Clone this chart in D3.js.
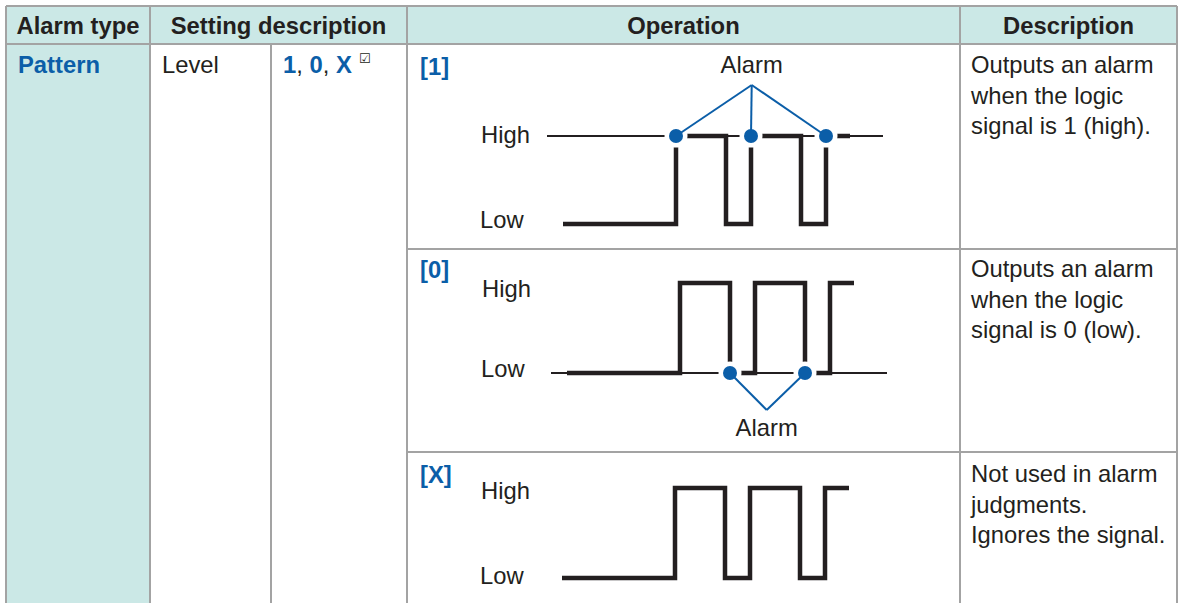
<!DOCTYPE html>
<html><head><meta charset="utf-8">
<script src="https://cdn.jsdelivr.net/npm/d3@7"></script>
<style>
html,body{margin:0;padding:0;background:#fff;}
svg text{font-family:"Liberation Sans",Arial,sans-serif;}
</style></head>
<body><svg id="c" width="1178" height="603"></svg>
<script>
// ---- data ----
const headers = ["Alarm type", "Setting description", "Operation", "Description"];
const alarmType = "Pattern";
const settingName = "Level";
const settingValues = ["1", "0", "X"];
const modes = ["[1]", "[0]", "[X]"];
const levelLabels = ["High", "Low"];
const alarmLabel = "Alarm";
const descriptions = [
  ["Outputs an alarm", "when the logic", "signal is 1 (high)."],
  ["Outputs an alarm", "when the logic", "signal is 0 (low)."],
  ["Not used in alarm", "judgments.", "Ignores the signal."]
];
// signal transitions (time units) and the level held after each
const edgeTimes = [0, 113, 163, 188, 238, 263, 287];
const edgeLevels = [0, 1, 0, 1, 0, 1];
// alarm points: times where the watched level is reached
const alarmTimesHigh = [113, 188, 263];
const alarmTimesLow = [163, 238];
const refSpan = [-16, 320];

// ---- style / layout ----
const BLUE = "#0b5ea8", INK = "#231f20", GRID = "#a3a3a3", HEAD = "#cbe8e6";
const FS = 23.8;
const colX = [6, 150, 271, 407, 960, 1177];
const headTop = 6, headBot = 44, rowY = [44, 249, 452, 603];

const svg = d3.select("#c");

// backgrounds
svg.append("rect").attr("x", colX[0]).attr("y", headTop).attr("width", colX[5]-colX[0]).attr("height", headBot-headTop).attr("fill", HEAD);
svg.append("rect").attr("x", colX[0]).attr("y", headBot).attr("width", colX[1]-colX[0]).attr("height", 603-headBot).attr("fill", HEAD);

// grid lines
const g = svg.append("g").attr("stroke", GRID).attr("stroke-width", 2).attr("fill", "none");
g.append("line").attr("x1", colX[0]).attr("x2", colX[5]).attr("y1", headTop).attr("y2", headTop);
g.append("line").attr("x1", colX[0]).attr("x2", colX[5]).attr("y1", headBot).attr("y2", headBot);
[0, 1, 3, 4, 5].forEach(i => g.append("line").attr("x1", colX[i]).attr("x2", colX[i]).attr("y1", headTop).attr("y2", 603));
g.append("line").attr("x1", colX[2]).attr("x2", colX[2]).attr("y1", headBot).attr("y2", 603);
[1, 2].forEach(i => g.append("line").attr("x1", colX[3]).attr("x2", colX[5]).attr("y1", rowY[i]).attr("y2", rowY[i]));

// headers
const headCenters = [(colX[0]+colX[1])/2, (colX[1]+colX[3])/2, (colX[3]+colX[4])/2, (colX[4]+colX[5])/2];
svg.selectAll("text.h").data(headers).join("text").attr("class", "h")
  .attr("x", (d, i) => headCenters[i]).attr("y", 34).attr("text-anchor", "middle")
  .attr("font-weight", "bold").attr("font-size", FS).attr("fill", INK).text(d => d);

// left columns
svg.append("text").attr("x", 18).attr("y", 73).attr("font-weight", "bold").attr("font-size", FS).attr("fill", BLUE).text(alarmType);
svg.append("text").attr("x", 162).attr("y", 73).attr("font-size", FS).attr("fill", INK).text(settingName);
const sv = svg.append("text").attr("x", 283).attr("y", 73).attr("font-size", FS);
settingValues.forEach((v, i) => {
  if (i > 0) sv.append("tspan").attr("fill", INK).text(", ");
  sv.append("tspan").attr("fill", BLUE).attr("font-weight", "bold").text(v);
});
svg.append("text").attr("x", 359).attr("y", 63).attr("font-size", 13).attr("fill", INK)
  .style("font-family", "DejaVu Sans").text("\u2611");

// mode labels
const modeY = [75, 278, 483];
svg.selectAll("text.m").data(modes).join("text").attr("class", "m")
  .attr("x", 420).attr("y", (d, i) => modeY[i]).attr("font-weight", "bold").attr("font-size", FS).attr("fill", BLUE).text(d => d);

// descriptions
const descY = [73, 277, 482];
descriptions.forEach((lines, r) => {
  svg.append("text").attr("x", 971).attr("y", descY[r]).attr("font-size", FS).attr("fill", INK)
    .selectAll("tspan").data(lines).join("tspan").attr("x", 971).attr("dy", (d, i) => i ? 30.5 : 0).text(d => d);
});

// waveforms
const rows = [
  {x0: 563, yHigh: 136, yLow: 224, labX: 481, hiY: 143, loY: 228, ref: 1, alarms: alarmTimesHigh, apex: [751.7, 85], alarmTextY: 73},
  {x0: 567, yHigh: 283, yLow: 373, labX: 482, hiY: 297, loY: 377, ref: 0, alarms: alarmTimesLow, apex: [766.7, 410], alarmTextY: 436},
  {x0: 562, yHigh: 488, yLow: 578, labX: 481, hiY: 499, loY: 584, ref: null, alarms: [], apex: null}
];

rows.forEach(r => {
  const x = d3.scaleLinear().domain([0, 287]).range([r.x0, r.x0 + 287]);
  const y = d3.scaleLinear().domain([0, 1]).range([r.yLow, r.yHigh]);
  const w = svg.append("g");
  w.append("text").attr("x", r.labX).attr("y", r.hiY).attr("font-size", FS).attr("fill", INK).text(levelLabels[0]);
  w.append("text").attr("x", r.labX - 1).attr("y", r.loY).attr("font-size", FS).attr("fill", INK).text(levelLabels[1]);

  if (r.ref !== null) {
    w.append("line").attr("x1", x(refSpan[0])).attr("x2", x(refSpan[1]))
      .attr("y1", y(r.ref)).attr("y2", y(r.ref)).attr("stroke", INK).attr("stroke-width", 2);
  }
  const pts = [];
  edgeLevels.forEach((lv, i) => { pts.push([edgeTimes[i], lv]); pts.push([edgeTimes[i + 1], lv]); });
  const line = d3.line().x(d => x(d[0])).y(d => y(d[1]));
  w.append("path").attr("d", line(pts)).attr("fill", "none").attr("stroke", INK)
    .attr("stroke-width", 4.5).attr("stroke-linejoin", "miter").attr("stroke-linecap", "butt");

  if (r.apex) {
    r.alarms.forEach(t => {
      w.append("circle").attr("cx", x(t)).attr("cy", y(r.ref)).attr("r", 11.5).attr("fill", "#fff");
    });
    r.alarms.forEach(t => {
      w.append("line").attr("x1", r.apex[0]).attr("y1", r.apex[1]).attr("x2", x(t)).attr("y2", y(r.ref))
        .attr("stroke", BLUE).attr("stroke-width", 2);
      w.append("circle").attr("cx", x(t)).attr("cy", y(r.ref)).attr("r", 7).attr("fill", BLUE);
    });
    w.append("text").attr("x", r.apex[0]).attr("y", r.alarmTextY).attr("text-anchor", "middle")
      .attr("font-size", FS).attr("fill", INK).text(alarmLabel);
  }
});
</script></body></html>
